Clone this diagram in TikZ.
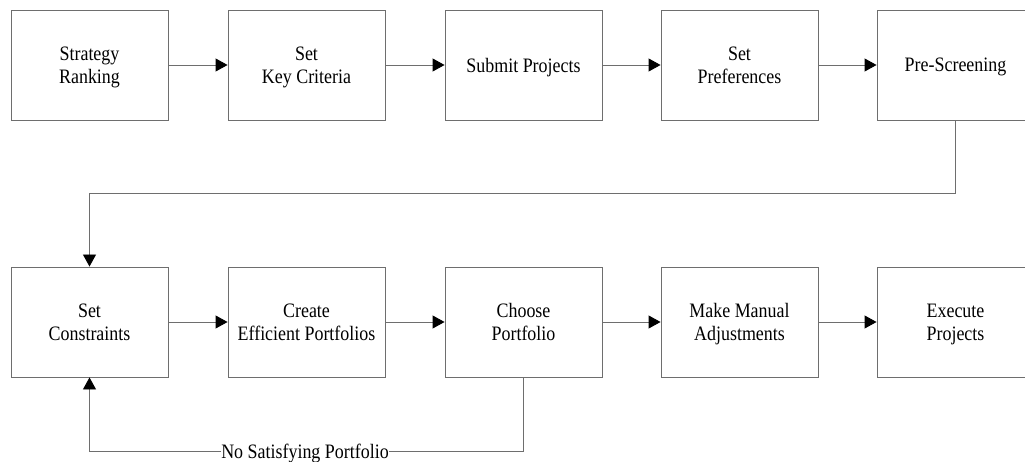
\documentclass[tikz,border=0pt]{standalone}
\usepackage{fontspec}
\setmainfont[FakeStretch=0.875]{Liberation Serif}
\usetikzlibrary{arrows.meta}
\definecolor{linegray}{HTML}{6E6E6E}
\tikzset{
  boxfont/.style={font=\fontsize{20.5}{23}\selectfont, text depth=0pt},
  stepbox/.style={boxfont, draw=linegray, line width=0.9pt, minimum width=157pt, minimum height=110pt,
    align=center, inner sep=2pt},
  flow/.style={draw=linegray, line width=0.9pt, -{Triangle[length=12pt,width=13pt,fill=black,color=black]}},
  plain/.style={draw=linegray, line width=0.9pt},
}
\begin{document}
\begin{tikzpicture}[x=1pt,y=-1pt]
\useasboundingbox (0,0) rectangle (1025,462);
\clip (0,0) rectangle (1025,462);
% top row
\node[stepbox] (rank) at (89.5,65) {Strategy\\Ranking};
\node[stepbox] (crit) at (306.5,65) {Set\\Key Criteria};
\node[stepbox] (subm) at (523.5,65) {Submit Projects};
\node[stepbox] (pref) at (739.5,65) {Set\\Preferences};
\node[stepbox] (pres) at (955.5,65) {Pre-Screening};
% bottom row
\node[stepbox] (cons) at (89.5,322) {Set\\Constraints};
\node[stepbox] (effi) at (306.5,322) {Create\\Efficient Portfolios};
\node[stepbox] (choo) at (523.5,322) {Choose\\Portfolio};
\node[stepbox] (manu) at (739.5,322) {Make Manual\\Adjustments};
\node[stepbox] (exec) at (955.5,322) {Execute\\Projects};
% loop-back label
\node[boxfont, inner sep=0pt] (nosat) at (305,451) {No Satisfying Portfolio};
\coordinate (turn) at (89.5,193);
% arrows along the rows
\draw[flow] (rank) -- (crit);
\draw[flow] (crit) -- (subm);
\draw[flow] (subm) -- (pref);
\draw[flow] (pref) -- (pres);
\draw[flow] (cons) -- (effi);
\draw[flow] (effi) -- (choo);
\draw[flow] (choo) -- (manu);
\draw[flow] (manu) -- (exec);
% from pre-screening down to the constraints
\draw[flow] (pres.south) |- (turn) -- (cons.north);
% back from choosing when no portfolio satisfies
\draw[plain] (choo.south) |- (nosat.east);
\draw[flow] (nosat.west) -| (cons.south);
\end{tikzpicture}
\end{document}
